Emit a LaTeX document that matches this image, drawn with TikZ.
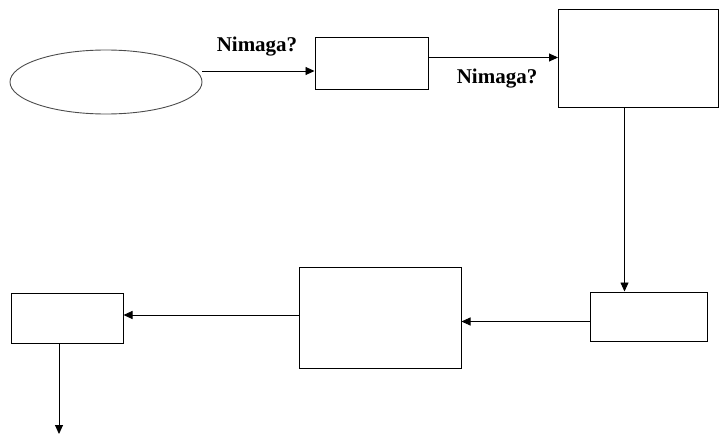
\documentclass[tikz,border=0pt]{standalone}
\usepackage{fontspec}
\setmainfont{Liberation Serif}
\usetikzlibrary{arrows.meta,shapes.geometric}
\tikzset{
  boxnode/.style={draw, line width=1pt, inner sep=0pt},
  arr/.style={line width=0.9pt, -{Triangle[length=9pt,width=8pt]}},
  lbl/.style={font=\fontsize{21}{23}\selectfont\bfseries, inner sep=0pt}
}
\begin{document}
\begin{tikzpicture}[x=1pt,y=-1pt]
\useasboundingbox (0,0) rectangle (720,436);
\node[ellipse, draw=black!70, line width=0.9pt, minimum width=192pt, minimum height=64pt, inner sep=0pt] (e) at (106,82) {};
\node[boxnode, minimum width=113pt, minimum height=51pt] (b2) at (371.5,63.5) {};
\node[boxnode, minimum width=160pt, minimum height=98pt] (b3) at (638.5,58.5) {};
\node[boxnode, minimum width=117pt, minimum height=49pt] (b4) at (648.5,316.5) {};
\node[boxnode, minimum width=162pt, minimum height=101pt] (b5) at (380,317.5) {};
\node[boxnode, minimum width=112pt, minimum height=50pt] (b6) at (67,318) {};
\coordinate (end) at (59,434);
\node[lbl] (l1) at (257,47) {Nimaga?};
\node[lbl] (l2) at (497,79) {Nimaga?};
\draw[arr] ([yshift=-7.5pt]b2.west -| e.east) -- ([yshift=-7.5pt]b2.west);
\draw[arr] ([yshift=6pt]b2.east) -- ([yshift=6pt]b2.east -| b3.west);
\draw[arr] ([xshift=-14pt]b3.south) -- ([xshift=-14pt]b3.south |- b4.north);
\draw[arr] ([yshift=-5pt]b4.west) -- ([yshift=-5pt]b4.west -| b5.east);
\draw[arr] ([yshift=2.5pt]b5.west) -- ([yshift=2.5pt]b5.west -| b6.east);
\draw[arr] ([xshift=-8pt]b6.south) -- (end);
\end{tikzpicture}
\end{document}
